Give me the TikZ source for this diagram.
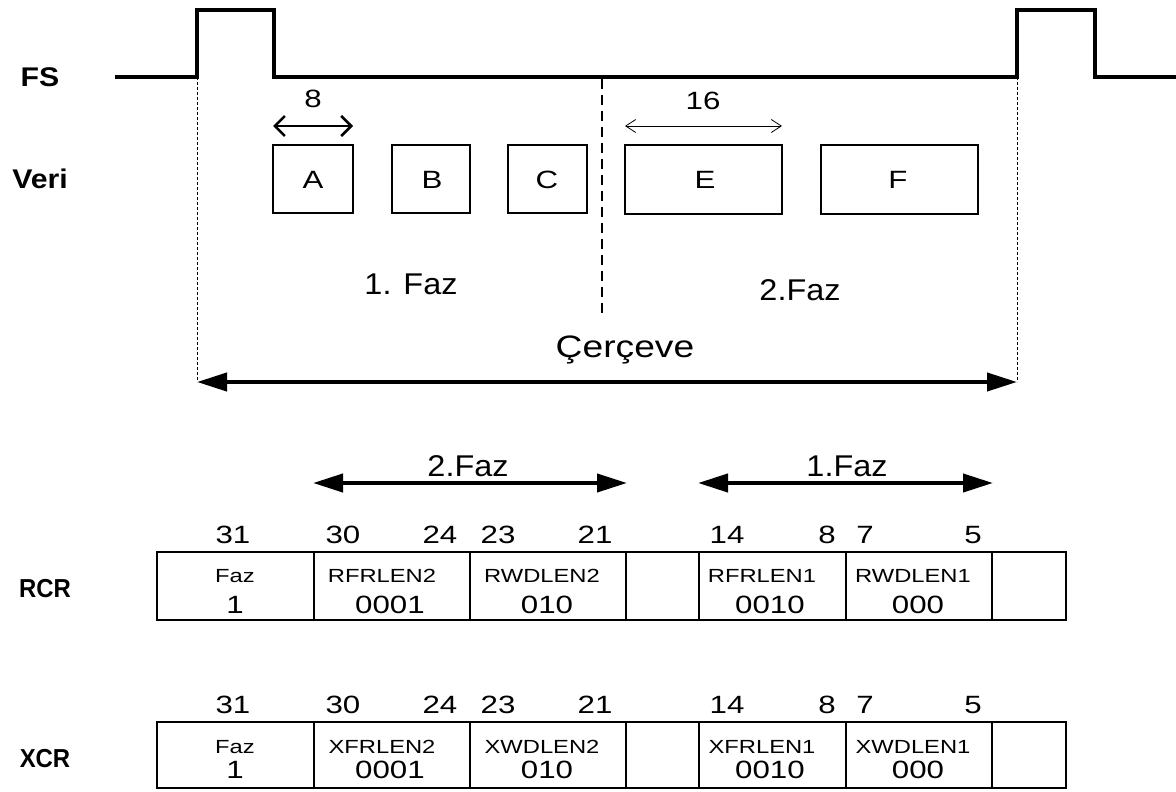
\documentclass[tikz,border=0pt]{standalone}
\usepackage{fontspec}
\setmainfont{Liberation Sans}
\usetikzlibrary{arrows.meta}
\begin{document}
\begin{tikzpicture}[x=1pt,y=-1pt,
  txt/.style={inner sep=0pt, anchor=base, xscale=1.12},
  big/.style={txt, font=\fontsize{30}{30}\selectfont, xscale=1.08/1.12},
  mid/.style={txt, font=\fontsize{25}{25}\selectfont, xscale=1.25/1.12},
  sml/.style={txt, font=\fontsize{19}{19}\selectfont, xscale=1.25/1.12},
  lbl/.style={txt, font=\bfseries\fontsize{27}{27}\selectfont},
  reglbl/.style={txt, font=\bfseries\fontsize{26}{26}\selectfont, xscale=0.92/1.12},
  databox/.style={draw, line width=2.5pt, inner sep=0pt},
  cell/.style={draw, line width=2.2pt, inner sep=0pt},
  sig/.style={line width=4.5pt},
  guide/.style={line width=0.8pt, dash pattern=on 3pt off 2pt},
  midline/.style={line width=2pt, dash pattern=on 10pt off 6pt},
  bigarrow/.style={line width=4pt, {Triangle[length=30pt,width=18pt]}-{Triangle[length=30pt,width=18pt]}},
  smallarrow/.style={line width=2.5pt, {Straight Barb[length=10pt,width=20pt]}-{Straight Barb[length=10pt,width=20pt]}},
  thinarrow/.style={line width=0.8pt, {Straight Barb[length=10pt,width=13pt]}-{Straight Barb[length=10pt,width=13pt]}},
]
\useasboundingbox (0,0) rectangle (1176,792);

% FS signal
\coordinate (s0) at (115,77);
\coordinate (s1) at (197,77);
\coordinate (s2) at (197,10);
\coordinate (s3) at (274,10);
\coordinate (s4) at (274,77);
\coordinate (s5) at (1017,77);
\coordinate (s6) at (1017,10);
\coordinate (s7) at (1095,10);
\coordinate (s8) at (1095,77);
\coordinate (s9) at (1176,77);
\draw[sig] (s0) -- (s1) -- (s2) -- (s3) -- (s4) -- (s5) -- (s6) -- (s7) -- (s8) -- (s9);

% guides
\coordinate (gl) at (197,382);
\coordinate (gr) at (1017,382);
\draw[guide] (s1) -- (gl);
\draw[guide] (s5) -- (gr);
\coordinate (mt) at (602,79);
\coordinate (mb) at (602,315);
\draw[midline] (mt) -- (mb);

% labels left
\node[lbl] (fs) at (40,86) {FS};
\node[lbl] (veri) at (40,188) {Veri};
\node[reglbl] (rcr) at (45,597) {RCR};
\node[reglbl] (xcr) at (45,767) {XCR};

% data boxes
\node[databox, minimum width=80pt, minimum height=68pt] (A) at (313,179) {};
\node[databox, minimum width=78pt, minimum height=68pt] (B) at (431,179) {};
\node[databox, minimum width=79pt, minimum height=68pt] (C) at (547.5,179) {};
\node[databox, minimum width=157pt, minimum height=69pt] (E) at (703.5,179.5) {};
\node[databox, minimum width=157pt, minimum height=69pt] (F) at (899.5,179.5) {};
\node[mid] (tA) at (313,188) {A};
\node[mid] (tB) at (432,188) {B};
\node[mid] (tC) at (547,188) {C};
\node[mid] (tE) at (705,188) {E};
\node[mid] (tF) at (898,188) {F};

% width arrows
\coordinate (a8l) at (273,126);
\coordinate (a8r) at (353,126);
\draw[smallarrow] (a8l) -- (a8r);
\node[mid] (n8) at (313,107) {8};
\coordinate (a16l) at (625,126);
\coordinate (a16r) at (782,126);
\draw[thinarrow] (a16l) -- (a16r);
\node[mid] (n16) at (703,110) {16};

% phase texts
\node[big] (ph1) at (411,294) {1. Faz};
\node[big] (ph2) at (800,300) {2.Faz};
\node[txt, font=\fontsize{31}{31}\selectfont, xscale=1.2/1.12] (cer) at (625,357) {Çerçeve};
\draw[bigarrow] (gl) -- (gr);

% register phase arrows
\coordinate (p2l) at (313,483);
\coordinate (p2r) at (627,483);
\coordinate (p1l) at (698,483);
\coordinate (p1r) at (993,483);
\draw[bigarrow] (p2l) -- (p2r);
\draw[bigarrow] (p1l) -- (p1r);
\node[big] (t2f) at (468,476) {2.Faz};
\node[big] (t1f) at (847,476) {1.Faz};

% registers
\foreach \n/\cx/\w in {1/235.5/157, 2/392/156, 3/548/156, 4/662.5/73, 5/772.5/147, 6/919/146, 7/1029/74} {
  \node[cell, minimum width=\w pt, minimum height=68pt] (r\n) at (\cx,586) {};
  \node[cell, minimum width=\w pt, minimum height=66pt] (x\n) at (\cx,755) {};
}

% bit numbers
\foreach \t/\bx in {31/233, 30/343, 24/440, 23/498, 21/595, 14/727, 8/827, 7/865, 5/973} {
  \node[mid] (rb\t) at (\bx,543) {\t};
  \node[mid] (xb\t) at (\bx,713) {\t};
}

% cell texts RCR
\node[sml] (rl1) at (235,582) {Faz};
\node[mid] (rv1) at (235,613) {1};
\node[sml] (rl2) at (382,582) {RFRLEN2};
\node[mid] (rv2) at (390,613) {0001};
\node[sml] (rl3) at (542,582) {RWDLEN2};
\node[mid] (rv3) at (547,613) {010};
\node[sml] (rl5) at (762,582) {RFRLEN1};
\node[mid] (rv5) at (770,613) {0010};
\node[sml] (rl6) at (913,582) {RWDLEN1};
\node[mid] (rv6) at (918,613) {000};

% cell texts XCR
\node[sml] (xl1) at (235,753) {Faz};
\node[mid] (xv1) at (235,778) {1};
\node[sml] (xl2) at (382,753) {XFRLEN2};
\node[mid] (xv2) at (390,778) {0001};
\node[sml] (xl3) at (542,753) {XWDLEN2};
\node[mid] (xv3) at (547,778) {010};
\node[sml] (xl5) at (762,753) {XFRLEN1};
\node[mid] (xv5) at (770,778) {0010};
\node[sml] (xl6) at (913,753) {XWDLEN1};
\node[mid] (xv6) at (918,778) {000};
\end{tikzpicture}
\end{document}
